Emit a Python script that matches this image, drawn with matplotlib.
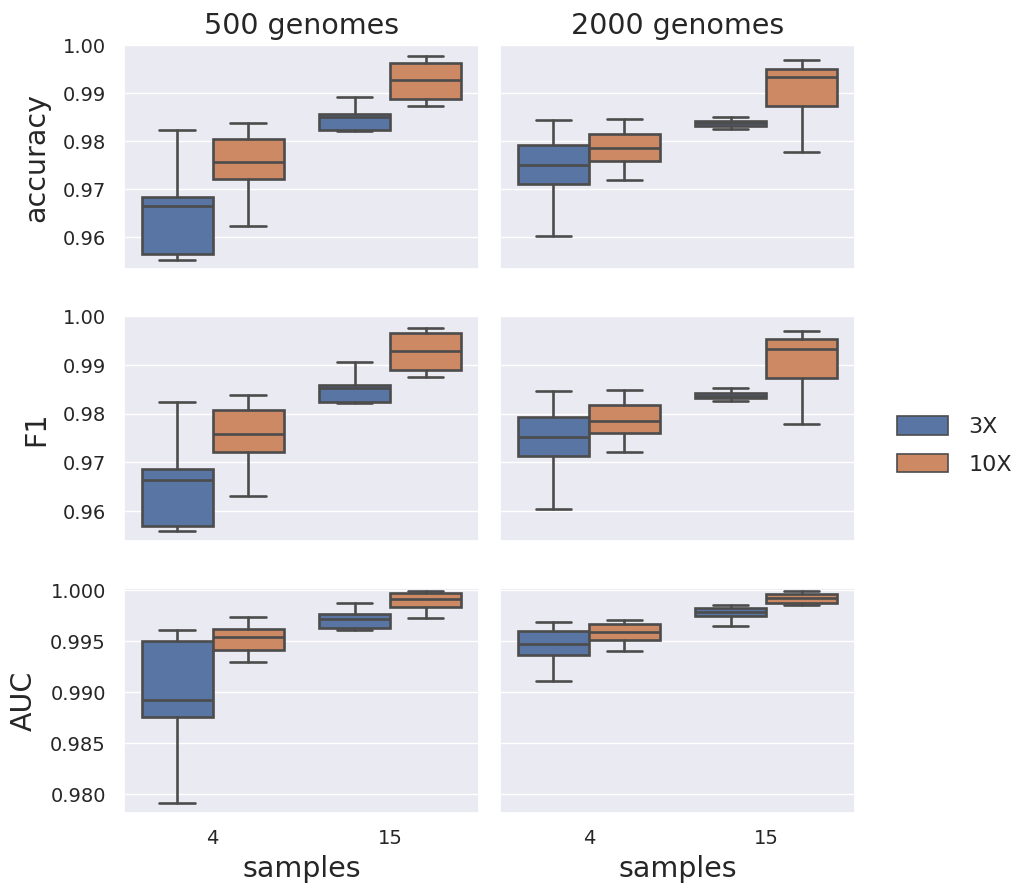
import matplotlib
matplotlib.use("Agg")
import matplotlib.pyplot as plt
import matplotlib.patches as mpatches
import seaborn as sns

sns.set_theme(style="darkgrid")
plt.rcParams["font.family"] = ["DejaVu Sans"]

# Categories
samples = ["4", "15"]
coverages = ["3X", "10X"]
genome_sets = ["500 genomes", "2000 genomes"]
metrics = ["accuracy", "F1", "AUC"]

# Box summaries per sample size: [whisker low, Q1, median, Q3, whisker high]
acc_500_3x = [[0.9553, 0.9564, 0.9665, 0.9684, 0.9824], [0.9822, 0.9824, 0.9851, 0.9857, 0.9892]]
acc_500_10x = [[0.9623, 0.9721, 0.9756, 0.9804, 0.9837], [0.9874, 0.9887, 0.9927, 0.9963, 0.9977]]
acc_2000_3x = [[0.9603, 0.9711, 0.9750, 0.9792, 0.9844], [0.9826, 0.9831, 0.9837, 0.9842, 0.9851]]
acc_2000_10x = [[0.9719, 0.9758, 0.9785, 0.9815, 0.9846], [0.9777, 0.9873, 0.9933, 0.9951, 0.9968]]

f1_500_3x = [[0.9558, 0.9570, 0.9663, 0.9687, 0.9825], [0.9823, 0.9825, 0.9853, 0.9859, 0.9907]]
f1_500_10x = [[0.9631, 0.9721, 0.9759, 0.9807, 0.9838], [0.9875, 0.9890, 0.9929, 0.9965, 0.9977]]
f1_2000_3x = [[0.9605, 0.9713, 0.9752, 0.9794, 0.9846], [0.9827, 0.9832, 0.9837, 0.9843, 0.9852]]
f1_2000_10x = [[0.9722, 0.9760, 0.9786, 0.9818, 0.9848], [0.9779, 0.9874, 0.9934, 0.9953, 0.9970]]

auc_500_3x = [[0.97912, 0.98756, 0.98928, 0.99506, 0.99613], [0.99613, 0.99627, 0.99720, 0.99769, 0.99873]]
auc_500_10x = [[0.99302, 0.99419, 0.99539, 0.99623, 0.99740], [0.99730, 0.99841, 0.99912, 0.99977, 0.99993]]
auc_2000_3x = [[0.99110, 0.99364, 0.99474, 0.99601, 0.99695], [0.99656, 0.99753, 0.99792, 0.99825, 0.99857]]
auc_2000_10x = [[0.99403, 0.99516, 0.99591, 0.99672, 0.99711], [0.99857, 0.99876, 0.99925, 0.99968, 0.99993]]

panels = {
    ("accuracy", "500 genomes"): (acc_500_3x, acc_500_10x),
    ("accuracy", "2000 genomes"): (acc_2000_3x, acc_2000_10x),
    ("F1", "500 genomes"): (f1_500_3x, f1_500_10x),
    ("F1", "2000 genomes"): (f1_2000_3x, f1_2000_10x),
    ("AUC", "500 genomes"): (auc_500_3x, auc_500_10x),
    ("AUC", "2000 genomes"): (auc_2000_3x, auc_2000_10x),
}

row_ylim = {"accuracy": (0.9533, 0.9998), "F1": (0.9539, 0.9998), "AUC": (0.97821, 1.0002)}
row_ticks = {
    "accuracy": ([0.96, 0.97, 0.98, 0.99, 1.00], "{:.2f}"),
    "F1": ([0.96, 0.97, 0.98, 0.99, 1.00], "{:.2f}"),
    "AUC": ([0.980, 0.985, 0.990, 0.995, 1.000], "{:.3f}"),
}

fill_colors = {"3X": "#5975a4", "10X": "#cc8963"}
edge = "#4c4c4c"
lw = 1.9

fig = plt.figure(figsize=(10.13, 8.86), dpi=100)
lefts = [0.1224, 0.4936]
bottoms = [0.6960, 0.3897, 0.0827]
w, h = 0.3504, 0.2532

offsets = [-0.2, 0.2]
box_w = 0.4

for r, metric in enumerate(metrics):
    for c, gset in enumerate(genome_sets):
        ax = fig.add_axes([lefts[c], bottoms[r], w, h])
        for k, cov in enumerate(coverages):
            series = panels[(metric, gset)][k]
            stats = []
            for s in series:
                lo, q1, med, q3, hi = s
                stats.append(dict(whislo=lo, q1=q1, med=med, q3=q3, whishi=hi, fliers=[]))
            positions = [i + offsets[k] for i in range(len(samples))]
            ax.bxp(
                stats, positions=positions, widths=box_w, patch_artist=True,
                showfliers=False,
                boxprops=dict(facecolor=fill_colors[cov], edgecolor=edge, linewidth=lw),
                medianprops=dict(color=edge, linewidth=lw),
                whiskerprops=dict(color=edge, linewidth=lw),
                capprops=dict(color=edge, linewidth=lw),
                capwidths=box_w / 2,
                manage_ticks=False,
            )
        ax.set_xlim(-0.5, len(samples) - 0.5)
        ax.set_ylim(*row_ylim[metric])
        ticks, fmt = row_ticks[metric]
        ax.set_yticks(ticks)
        ax.xaxis.grid(False)
        ax.set_xticks(range(len(samples)))
        ax.tick_params(axis="y", labelsize=14, colors="#262626", length=0, pad=13)
        ax.tick_params(axis="x", labelsize=14, colors="#262626", length=0, pad=12)
        if c == 0:
            ax.set_yticklabels([fmt.format(t) for t in ticks])
            ax.set_ylabel(metric, fontsize=20.5, color="#262626", labelpad=9)
        else:
            ax.set_yticklabels([])
        if r == len(metrics) - 1:
            ax.set_xticklabels(samples)
            ax.set_xlabel("samples", fontsize=20.5, color="#262626", labelpad=5)
        else:
            ax.set_xticklabels([])
        if r == 0:
            ax.set_title(gset, fontsize=20.5, color="#262626", pad=8)

handles = [mpatches.Patch(facecolor=fill_colors[cv], edgecolor=edge, linewidth=1.2, label=cv)
           for cv in coverages]
fig.legend(handles=handles, loc="center left", bbox_to_anchor=(0.866, 0.497), frameon=False,
           fontsize=16, handlelength=2.3, handleheight=0.9, labelspacing=0.75, handletextpad=0.9)

fig.savefig("out.png", dpi=100)
